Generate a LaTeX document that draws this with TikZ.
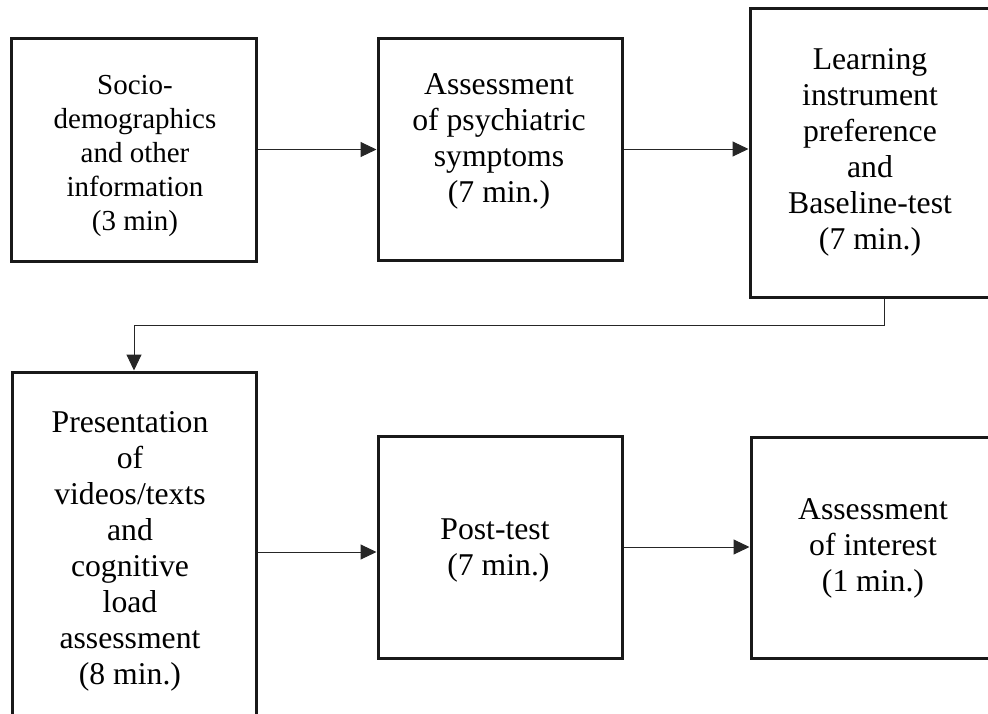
\documentclass[tikz,border=0pt]{standalone}
\usepackage{fontspec}
\setmainfont{Liberation Serif}
\usetikzlibrary{arrows.meta}
\begin{document}
\begin{tikzpicture}[x=1pt,y=-1pt,
  box/.style={draw=black!90,line width=3pt,inner sep=0pt},
  txt/.style={inner sep=0pt,align=center,font=\fontsize{31.7}{36}\selectfont},
  smalltxt/.style={txt,font=\fontsize{29}{34}\selectfont},
  arr/.style={draw=black!85,line width=1pt,-{Triangle[length=16pt,width=15pt]}}]
\useasboundingbox (0,0) rectangle (988,713);
\clip (0,0) rectangle (988,713);
\node[box,minimum width=245pt,minimum height=223pt] (b1) at (133.5,149.5) {};
\node[smalltxt] (t1) at (135,156) {Socio-\\demographics\\and other\\information\\(3 min)};
\node[box,minimum width=244pt,minimum height=222pt] (b2) at (500,149) {};
\node[txt] (t2) at (499,141.5) {Assessment\\of psychiatric\\symptoms\\(7 min.)};
\node[box,minimum width=240pt,minimum height=289pt] (b3) at (870,152.5) {};
\node[txt] (t3) at (870,152) {Learning\\instrument\\preference\\and\\Baseline-test\\(7 min.)};
\node[box,minimum width=244pt,minimum height=358pt] (b4) at (134,551) {};
\node[txt] (t4) at (130,551) {Presentation\\of\\videos/texts\\and\\cognitive\\load\\assessment\\(8 min.)};
\node[box,minimum width=244pt,minimum height=222pt] (b5) at (500,547) {};
\node[txt] (t5) at (495,550) {Post-test\\\hspace*{7pt}(7 min.)};
\node[box,minimum width=242pt,minimum height=221pt] (b6) at (872,547.5) {};
\node[txt] (t6) at (873,548.5) {Assessment\\of interest\\(1 min.)};
\coordinate (c1) at (884,325);
\draw[arr] (b1.east) -- (b1.east -| b2.west);
\draw[arr] (b2.east) -- (b2.east -| b3.west);
\draw[arr] (b3.south -| c1) -- (c1) -| (b4.north);
\draw[arr] ([yshift=-1pt]b4.east) -- ([yshift=-1pt]b4.east -| b5.west);
\draw[arr] (b5.east) -- (b5.east -| b6.west);
\end{tikzpicture}
\end{document}
